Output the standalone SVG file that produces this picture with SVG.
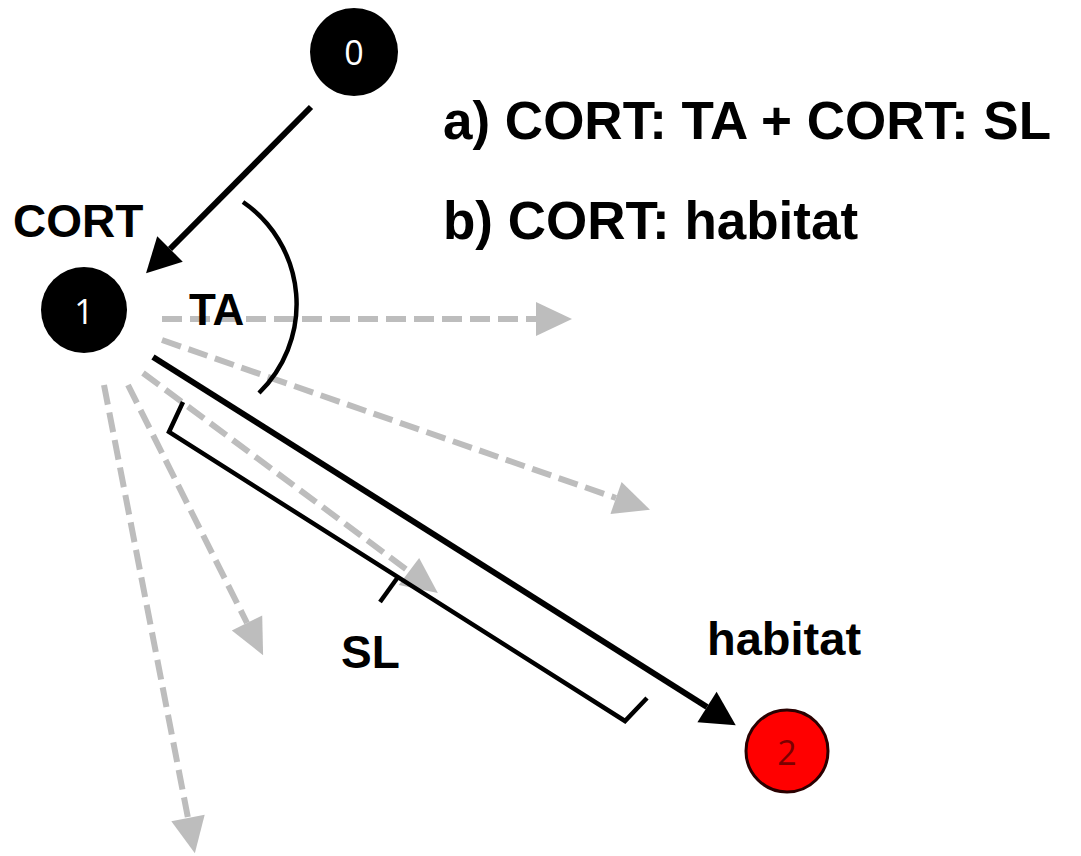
<svg xmlns="http://www.w3.org/2000/svg" width="1081" height="856" viewBox="0 0 1081 856">
<style>
  .lbl { font-family: "Liberation Sans", Arial, sans-serif; font-weight: bold; fill: #000; }
  .num { font-family: "Open Sans", "Liberation Sans", sans-serif; font-size: 34px; text-anchor: middle; dominant-baseline: central; }
  .gray { stroke: #bdbdbd; stroke-width: 6; stroke-dasharray: 20 8; fill: none; marker-end: url(#gh); }
  .blk { stroke: #000; stroke-width: 6; fill: none; marker-end: url(#bh); }
  .thin { stroke: #000; stroke-width: 4.5; fill: none; stroke-linejoin: miter; }
</style>
<defs>
  <marker id="gh" markerUnits="userSpaceOnUse" markerWidth="40" markerHeight="40" refX="0" refY="0" orient="auto" overflow="visible">
    <path d="M0,-17 L36,0 L0,17 z" fill="#bdbdbd"/>
  </marker>
  <marker id="bh" markerUnits="userSpaceOnUse" markerWidth="40" markerHeight="40" refX="0" refY="0" orient="auto" overflow="visible">
    <path d="M0,-18 L34,0 L0,18 z" fill="#000"/>
  </marker>
</defs>
<rect width="1081" height="856" fill="#fff"/>

<g id="connectors">
  <line class="gray" x1="162" y1="319" x2="536" y2="319"/>
  <line class="gray" x1="162" y1="340" x2="616" y2="498"/>
  <line class="gray" x1="143" y1="373" x2="409" y2="571.5"/>
  <line class="gray" x1="128" y1="385" x2="247" y2="623"/>
  <line class="gray" x1="104" y1="385" x2="188" y2="818"/>
  <line class="blk" x1="311" y1="107" x2="170" y2="249"/>
  <line class="blk" x1="153" y1="357" x2="707" y2="707"/>
</g>

<g id="ta-arc">
  <path class="thin" d="M243,202 A124,124 0 0 1 259,393"/>
</g>

<g id="sl-bracket">
  <polyline class="thin" points="183,402 169,432 625,721 647,698"/>
  <line class="thin" x1="398" y1="577" x2="380" y2="602"/>
</g>

<g id="node0">
  <circle cx="354" cy="52" r="44" fill="#000"/>
  <text class="num" x="354" y="52" fill="#fff">0</text>
</g>
<g id="node1">
  <circle cx="84" cy="310" r="43" fill="#000"/>
  <text class="num" x="84" y="311" fill="#fff">1</text>
</g>
<g id="node2">
  <circle cx="787" cy="751" r="41" fill="#ff0000" stroke="#2a0000" stroke-width="3"/>
  <text class="num" x="787" y="752" fill="#7a0000">2</text>
</g>

<g id="labels">
  <text class="lbl" x="13" y="237" font-size="46">CORT</text>
  <text class="lbl" x="189" y="325" font-size="44">TA</text>
  <text class="lbl" x="341" y="668" font-size="46">SL</text>
  <text class="lbl" x="707" y="655" font-size="47">habitat</text>
  <text class="lbl" x="443" y="139" font-size="53">a) CORT: TA + CORT: SL</text>
  <text class="lbl" x="443" y="239" font-size="53">b) CORT: habitat</text>
</g>
</svg>
